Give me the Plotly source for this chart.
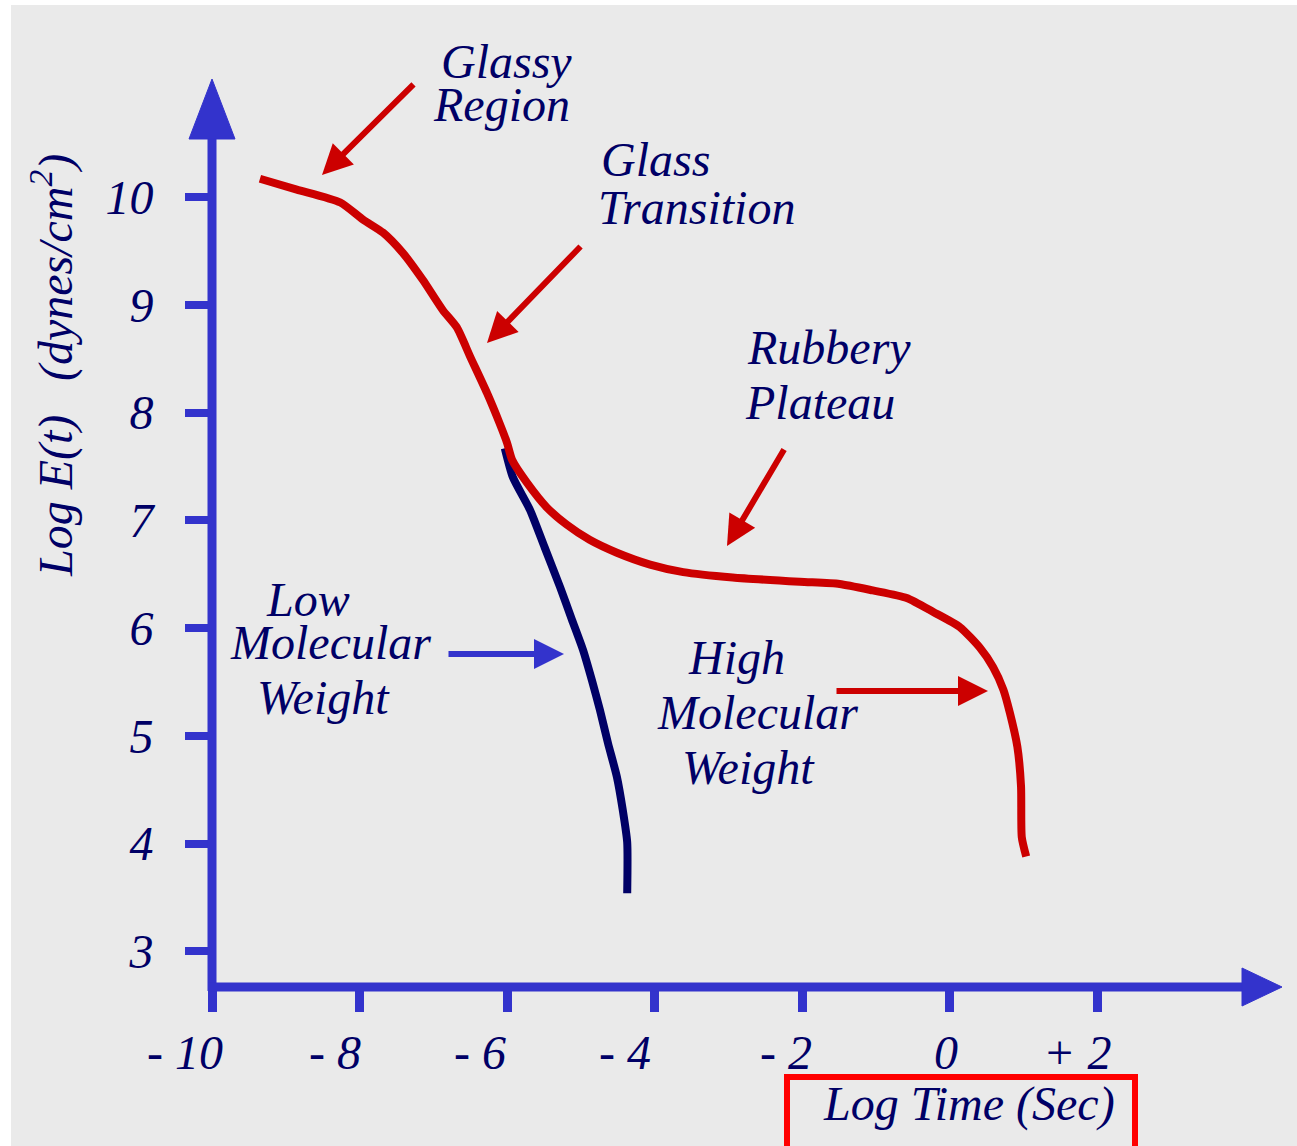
import plotly.graph_objects as go

# Stress-relaxation modulus vs. time (log-log), high and low molecular weight
high_mw_log_t = [-9.35, -8.85, -8.26, -7.95, -7.68, -7.41, -7.14, -6.87, -6.68, -6.50,
                 -6.27, -6.10, -6.00, -5.93, -5.73, -5.46, -5.19, -4.88, -4.51, -4.06,
                 -3.61, -2.94, -2.03, -1.49, -1.04, -0.58, -0.22, 0.14, 0.41, 0.59,
                 0.73, 0.82, 0.92, 0.97, 0.98, 1.04]
high_mw_log_e = [10.17, 10.07, 9.95, 9.79, 9.67, 9.48, 9.23, 8.95, 8.79, 8.52,
                 8.18, 7.90, 7.72, 7.56, 7.35, 7.12, 6.96, 6.82, 6.70, 6.59,
                 6.52, 6.47, 6.43, 6.41, 6.35, 6.28, 6.15, 6.01, 5.82, 5.64,
                 5.43, 5.21, 4.90, 4.53, 4.06, 3.88]

low_mw_log_t = [-6.03, -5.92, -5.69, -5.49, -5.28, -5.12, -4.97, -4.85, -4.74, -4.63,
                -4.51, -4.43, -4.37, -4.37]
low_mw_log_e = [7.67, 7.40, 7.10, 6.75, 6.38, 6.08, 5.80, 5.52, 5.24, 4.93,
                4.62, 4.31, 4.01, 3.54]

x_tick_vals = [-10, -8, -6, -4, -2, 0, 2]
x_tick_text = ["- 10", "- 8", "- 6", "- 4", "- 2", "0", "+ 2"]
y_tick_vals = [3, 4, 5, 6, 7, 8, 9, 10]
y_tick_text = ["3", "4", "5", "6", "7", "8", "9", "10"]

region_text = ["Glassy", "Region", "Glass", "Transition", "Rubbery", "Plateau",
               "Low", "Molecular", "Weight", "High", "Molecular", "Weight"]
x_title = "Log Time (Sec)"
y_title = "Log E(t)\u00a0\u00a0\u2009(dynes/cm<sup>2</sup>)"

# ---- page geometry (pixels) ----
W, H = 1297, 1146
L, R, T, B = 212, 1282, 80, 987          # plot area box
X_PER_UNIT = 73.75
Y_PER_UNIT = 107.76
X_MIN = -10
Y_REF_PX, Y_REF = 574.25, 6.5

x_max = X_MIN + (R - L) / X_PER_UNIT
y_min = Y_REF - (B - Y_REF_PX) / Y_PER_UNIT
y_max = Y_REF + (Y_REF_PX - T) / Y_PER_UNIT


def paper_x(px):
    return (px - L) / (R - L)


def paper_y(py):
    return (B - py) / (B - T)


BLUE = "#3333cc"
RED = "#cc0000"
NAVY = "#000066"
BG = "#eaeaea"
FONT = dict(family="Liberation Serif, Times New Roman, serif", size=48,
            color=NAVY, style="italic")

fig = go.Figure()
fig.add_trace(go.Scatter(x=low_mw_log_t, y=low_mw_log_e, mode="lines",
                         line=dict(color=NAVY, width=8, shape="spline", smoothing=0.6),
                         hoverinfo="skip", showlegend=False, cliponaxis=False))
fig.add_trace(go.Scatter(x=high_mw_log_t, y=high_mw_log_e, mode="lines",
                         line=dict(color=RED, width=8, shape="spline", smoothing=0.6),
                         hoverinfo="skip", showlegend=False, cliponaxis=False))

shapes = []
# white page edges on the top and left
shapes.append(dict(type="rect", xref="paper", yref="paper", layer="below",
                   x0=paper_x(-5), x1=paper_x(11), y0=paper_y(H + 5), y1=paper_y(-5),
                   fillcolor="white", line=dict(width=0)))
shapes.append(dict(type="rect", xref="paper", yref="paper", layer="below",
                   x0=paper_x(-5), x1=paper_x(W + 5), y0=paper_y(5), y1=paper_y(-5),
                   fillcolor="white", line=dict(width=0)))
# axis lines
shapes.append(dict(type="line", xref="paper", yref="paper", x0=0, x1=0,
                   y0=paper_y(991), y1=paper_y(125), line=dict(color=BLUE, width=9)))
shapes.append(dict(type="line", xref="paper", yref="paper", x0=paper_x(208), x1=paper_x(1250),
                   y0=0, y1=0, line=dict(color=BLUE, width=9)))
# axis arrowheads
shapes.append(dict(type="path", xref="paper", yref="paper", xsizemode="pixel",
                   ysizemode="pixel", xanchor=0, yanchor=1,
                   path="M 0,1 L -23,-59 L 23,-59 Z", fillcolor=BLUE,
                   line=dict(color=BLUE, width=1)))
shapes.append(dict(type="path", xref="paper", yref="paper", xsizemode="pixel",
                   ysizemode="pixel", xanchor=1, yanchor=0,
                   path="M 0,0 L -40,19 L -40,-19 Z", fillcolor=BLUE,
                   line=dict(color=BLUE, width=1)))
# red frame around the time-axis title
shapes.append(dict(type="rect", xref="paper", yref="paper",
                   x0=paper_x(787), x1=paper_x(1135), y0=paper_y(1170), y1=paper_y(1077),
                   line=dict(color="#ff0000", width=6), fillcolor="rgba(0,0,0,0)"))

annotations = []
# region labels (centre pixel positions)
region_pos = [(506, 61), (501, 105), (655, 159), (696, 207), (829, 347), (820, 402),
              (308, 599), (330, 642), (323, 697), (736, 657), (757, 712), (748, 767)]
for txt, (px, py) in zip(region_text, region_pos):
    annotations.append(dict(text=txt, xref="paper", yref="paper", x=paper_x(px), y=paper_y(py),
                            xanchor="center", yanchor="middle", showarrow=False, font=FONT))

# pointer arrows: (tip, tail, colour)
arrows = [((322, 175), (415, 83), RED),
          ((487, 343), (582, 245), RED),
          ((727, 546), (785, 448), RED),
          ((988, 691), (835, 691), RED),
          ((564, 654), (447, 654), BLUE)]
for (tx, ty), (sx, sy), col in arrows:
    annotations.append(dict(text="", xref="paper", yref="paper", x=paper_x(tx), y=paper_y(ty),
                            ax=sx - tx, ay=sy - ty, showarrow=True, arrowhead=2,
                            arrowsize=1, arrowwidth=6, arrowcolor=col, standoff=0))

# x tick labels, digits sitting under each tick
x_label_shift = [13, 3, 1, -2, 12, 10, 16]
for v, txt, sh in zip(x_tick_vals, x_tick_text, x_label_shift):
    annotations.append(dict(text=txt, xref="x", yref="paper", x=v, y=paper_y(1052),
                            xanchor="right", yanchor="middle", xshift=sh,
                            showarrow=False, font=FONT))

annotations.append(dict(text=x_title, xref="paper", yref="paper", x=paper_x(969),
                        y=paper_y(1104), xanchor="center", yanchor="middle",
                        showarrow=False, font=FONT))
annotations.append(dict(text=y_title, xref="paper", yref="paper", x=paper_x(52),
                        y=paper_y(366), xanchor="center", yanchor="middle", textangle=-90,
                        showarrow=False, font=FONT))

fig.update_layout(
    width=W, height=H, autosize=False,
    margin=dict(l=L, r=W - R, t=T, b=H - B, pad=0),
    paper_bgcolor=BG, plot_bgcolor=BG,
    shapes=shapes, annotations=annotations, showlegend=False,
    xaxis=dict(range=[X_MIN, x_max], showgrid=False, zeroline=False, showline=False,
               ticks="outside", tickvals=x_tick_vals, ticklen=24, tickwidth=9,
               tickcolor=BLUE, showticklabels=False, fixedrange=True),
    yaxis=dict(range=[y_min, y_max], showgrid=False, zeroline=False, showline=False,
               ticks="outside", tickvals=y_tick_vals, ticktext=y_tick_text, ticklen=26,
               tickwidth=8, tickcolor=BLUE, tickfont=FONT, ticklabelstandoff=22,
               fixedrange=True),
)

fig.write_html("out.html", config={"displayModeBar": False})
